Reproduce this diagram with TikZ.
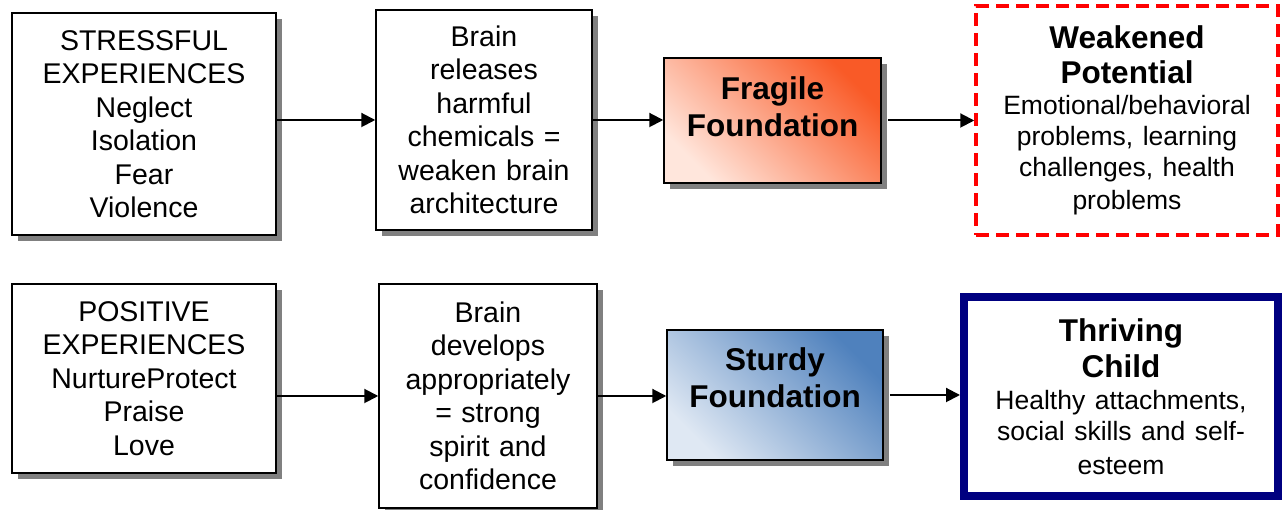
\documentclass[tikz,border=0pt]{standalone}
\usepackage{fontspec}
\setmainfont{Liberation Sans}
\usepackage{xcolor}
\usetikzlibrary{arrows.meta,shadows}
\definecolor{fragdark}{HTML}{F95A27}
\definecolor{fraglight}{HTML}{FFE6DC}
\definecolor{sturdark}{HTML}{4F81BD}
\definecolor{sturlight}{HTML}{DFE8F3}
\definecolor{thrivenavy}{HTML}{000080}

\begin{document}
\begin{tikzpicture}[x=1pt,y=1pt,>={Triangle[length=14pt,width=14pt]},
    box/.style={draw,line width=1.5pt,fill=white,align=center,inner sep=0pt,
      text width=#1,font=\fontsize{28.5}{33.5}\selectfont},
    box/.default=205pt,
    shadowed/.style={drop shadow={shadow xshift=6pt,shadow yshift=-6pt,fill=gray,opacity=1}},
    found/.style={box,shadowed,font=\bfseries\fontsize{31.5}{37}\selectfont},
    link/.style={->,line width=2pt}]
  \useasboundingbox (0,0) rectangle (1283,510);
  \node[box=250pt,shadowed,minimum width=264pt,minimum height=222pt] (stress) at (144,386)
    {STRESSFUL\\EXPERIENCES\\Neglect\\Isolation\\Fear\\Violence};
  \node[box,shadowed,minimum width=216pt,minimum height=220pt] (releases) at (484,390)
    {Brain\\releases\\harmful\\chemicals =\\weaken brain\\architecture};
  \node[found,top color=fragdark,bottom color=fraglight,shading angle=-45,
    minimum width=217pt,minimum height=125pt] (fragile) at (772.5,389.5)
    {Fragile\\Foundation\\[-9pt]\mbox{}};
  \node[box=290pt,draw=red,line width=3.5pt,dash pattern=on 13pt off 7pt,
    minimum width=302pt,minimum height=229pt] (weak) at (1127,389.5)
    {{\bfseries\fontsize{31.5}{35}\selectfont Weakened\\Potential\par}
     \fontsize{26.5}{31}\selectfont Emotional/behavioral\\problems, learning\\challenges, health\\problems};
  \node[box=250pt,shadowed,minimum width=264pt,minimum height=189pt] (positive) at (144,131.5)
    {POSITIVE\\EXPERIENCES\\NurtureProtect\\Praise\\Love};
  \node[box,shadowed,minimum width=218pt,minimum height=224pt] (develops) at (488,114)
    {Brain\\develops\\appropriately\\= strong\\spirit and\\confidence};
  \node[found,top color=sturdark,bottom color=sturlight,shading angle=-45,
    minimum width=216pt,minimum height=130pt] (sturdy) at (775,115)
    {Sturdy\\Foundation\\[-3pt]\mbox{}};
  \node[box=300pt,draw=thrivenavy,line width=8pt,
    minimum width=314pt,minimum height=199pt] (thriving) at (1121,113.5)
    {{\bfseries\fontsize{31.5}{36}\selectfont Thriving\\Child\par}
     \fontsize{26.5}{31.5}\selectfont Healthy attachments,\\social skills and self-\\esteem};
  \path[link] (stress.east |- releases.west) edge (releases.west);
  \path[link] (releases.east) edge (releases.east -| fragile.west);
  \path[link,shorten <=6pt] (fragile.east) edge (weak.west);
  \path[link] (positive.east |- develops.west) edge (develops.west);
  \path[link] (develops.east) edge (develops.east -| sturdy.west);
  \path[link,shorten <=6pt] (sturdy.east) edge (sturdy.east -| thriving.west);
\end{tikzpicture}
\end{document}
